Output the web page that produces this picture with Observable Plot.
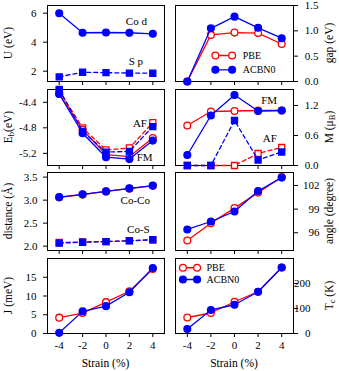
<!DOCTYPE html>
<html><head><meta charset="utf-8">
<script src="https://cdn.jsdelivr.net/npm/d3@7"></script>
<script src="https://cdn.jsdelivr.net/npm/@observablehq/plot@0.6"></script>
<style>
html,body{margin:0;padding:0;background:#fff;}
#chart{position:relative;width:339px;height:371px;overflow:hidden;background:#fff;}
#chart svg{position:absolute;overflow:visible;}
</style></head><body><div id="chart"></div>
<script>
// ---- data ----
const strain = [-4, -2, 0, 2, 4];
const methods = ["PBE", "ACBN0"];
const uCoD = [6.0, 4.65, 4.67, 4.65, 4.58];
const uSp = [1.61, 1.93, 1.90, 1.87, 1.86];
const gapPBE = [0, 0.92, 0.965, 0.955, 0.74];
const gapACBN0 = [0, 1.05, 1.28, 1.06, 0.855];
const ebFM_PBE = [-4.27, -4.83, -5.22, -5.25, -4.96];
const ebFM_ACBN0 = [-4.27, -4.885, -5.26, -5.29, -5.0];
const ebAF_PBE = [-4.22, -4.80, -5.147, -5.115, -4.72];
const ebAF_ACBN0 = [-4.2, -4.855, -5.18, -5.17, -4.78];
const mFM_PBE = [0.80, 1.08, 1.09, 1.10, 1.10];
const mFM_ACBN0 = [0.21, 1.0, 1.41, 1.09, 1.10];
const mAF_PBE = [0, 0, 0, 0.24, 0.36];
const mAF_ACBN0 = [0, 0, 0.90, 0.11, 0.27];
const dCoCo_PBE = [3.06, 3.12, 3.19, 3.25, 3.31];
const dCoCo_ACBN0 = [3.065, 3.125, 3.19, 3.255, 3.315];
const dCoS_PBE = [2.08, 2.09, 2.10, 2.12, 2.14];
const dCoS_ACBN0 = [2.065, 2.085, 2.10, 2.115, 2.14];
const anglePBE = [95.02, 97.22, 99.13, 101.1, 103.07];
const angleACBN0 = [96.42, 97.43, 98.7, 101.3, 103.0];
const jPBE = [4.23, 5.45, 8.36, 11.27, 17.2];
const jACBN0 = [0.2, 5.9, 7.3, 11.0, 17.46];
const tcPBE = [64, 82, 127, 167, 264];
const tcACBN0 = [18, 94, 115, 167, 264];

const uTicks = [2, 4, 6];
const gapTicks = [0, 0.5, 1.0, 1.5];
const ebTicks = [-5.2, -4.8, -4.4];
const mTicks = [0, 0.6, 1.2];
const dTicks = [2.0, 2.5, 3.0, 3.5];
const angleTicks = [96, 99, 102];
const jTicks = [0, 5, 10, 15];
const tcTicks = [0, 100, 200];

// ---- style ----
const FONT = "'Liberation Serif', 'Times New Roman', Times, serif";
const RED = "#ff0000", BLUE = "#0000ff";
const rows = [{top: 5, h: 76}, {top: 89, h: 76}, {top: 172, h: 78}, {top: 258, h: 75}];
const cols = [{left: 0, w: 170, ml: 47, mr: 6}, {left: 170, w: 169, ml: 5, mr: 46}];
const chart = document.getElementById("chart");

function series(values, color, symbol, filled, dashed) {
  const data = strain.map((s, i) => ({s, v: values[i]}));
  return [
    Plot.line(data, {x: "s", y: "v", stroke: color, strokeWidth: 1.3, strokeDasharray: dashed ? "4,3" : null}),
    Plot.dot(data, {x: "s", y: "v", symbol, r: 3.4, stroke: color, fill: filled ? color : "white", strokeWidth: 1.3})
  ];
}
function note(label, x, y) {
  return Plot.text([label], {x, y, text: d => d, fontSize: 11, fill: "black", textAnchor: "middle"});
}
function legend(x1, x2, xt, yRows) {
  const out = [];
  methods.forEach((m, i) => {
    const color = i === 0 ? RED : BLUE;
    const filled = i === 1;
    const pts = [{s: x1, v: yRows[i]}, {s: x2, v: yRows[i]}];
    out.push(Plot.line(pts, {x: "s", y: "v", stroke: color, strokeWidth: 1.3}));
    out.push(Plot.dot(pts, {x: "s", y: "v", r: 3.4, stroke: color, fill: filled ? color : "white", strokeWidth: 1.3}));
    out.push(Plot.text([m], {x: xt, y: yRows[i], text: d => d, textAnchor: "start", fontSize: 10, fill: "black"}));
  });
  return out;
}

function panel(cfg) {
  const c = cols[cfg.col], r = rows[cfg.row];
  const bottom = cfg.row === 3;
  const mt = 5, mb = bottom ? 40 : 6;
  const svg = Plot.plot({
    width: c.w, height: r.h + mt + mb,
    marginTop: mt, marginBottom: mb, marginLeft: c.ml, marginRight: c.mr,
    style: {fontFamily: FONT, fontSize: "11px", background: "transparent", overflow: "visible", color: "black"},
    x: {domain: [-5, 5]},
    y: {domain: cfg.domain},
    marks: [
      Plot.frame({stroke: "black", strokeWidth: 1}),
      Plot.axisX({ticks: strain, tickSize: 4, tickPadding: 4, tickFormat: bottom ? d => String(d) : () => "", label: null}),
      Plot.axisY({anchor: cfg.col ? "right" : "left", ticks: cfg.yTicks, tickFormat: cfg.yFmt, tickSize: 4,
                  tickPadding: cfg.pad, textAnchor: "end", label: null}),
      ...cfg.marks
    ]
  });
  svg.style.left = c.left + "px";
  svg.style.top = (r.top - mt) + "px";
  const g = d3.select(svg);
  const lx = cfg.col ? 329 - c.left : 8;
  const ly = mt + r.h / 2;
  const t = g.append("text")
    .attr("transform", `translate(${lx},${ly}) rotate(-90)`)
    .attr("text-anchor", "middle").attr("dominant-baseline", "central")
    .attr("font-size", "11.5px").attr("font-family", FONT).attr("fill", "black");
  cfg.label(t);
  if (bottom) {
    g.append("text").attr("x", c.ml + (c.w - c.ml - c.mr) / 2).attr("y", mt + r.h + 34)
      .attr("text-anchor", "middle").attr("font-size", "11.5px").attr("font-family", FONT)
      .attr("fill", "black").text("Strain (%)");
  }
  chart.appendChild(svg);
}
const plain = s => t => t.text(s);
const f1 = d => d.toFixed(1);

// Row 1
panel({col: 0, row: 0, domain: [1.29, 6.53], yTicks: uTicks, yFmt: d => String(d), pad: 7,
  label: plain("U (eV)"),
  marks: [...series(uCoD, BLUE, "circle", true, false), ...series(uSp, BLUE, "square", true, true),
          note("Co d", 2.6, 5.43), note("S p", 2.55, 2.67)]});
panel({col: 1, row: 0, domain: [0, 1.5], yTicks: gapTicks, yFmt: f1, pad: 21,
  label: plain("gap (eV)"),
  marks: [...series(gapPBE, RED, "circle", false, false), ...series(gapACBN0, BLUE, "circle", true, false),
          ...legend(-1.62, -0.2, 0.7, [0.513, 0.231])]});
// Row 2
panel({col: 0, row: 1, domain: [-5.39, -4.2], yTicks: ebTicks, yFmt: f1, pad: 7,
  label: t => { t.text("E"); t.append("tspan").attr("dy", 3).attr("font-size", "8.5px").text("b");
                t.append("tspan").attr("dy", -3).text("(eV)"); },
  marks: [...series(ebAF_PBE, RED, "square", false, true), ...series(ebFM_PBE, RED, "circle", false, false),
          ...series(ebAF_ACBN0, BLUE, "square", true, true), ...series(ebFM_ACBN0, BLUE, "circle", true, false),
          note("AF", 2.9, -4.73), note("FM", 3.3, -5.26)]});
panel({col: 1, row: 1, domain: [0, 1.52], yTicks: mTicks, yFmt: f1, pad: 21,
  label: t => { t.text("M (\u03bc"); t.append("tspan").attr("dy", 3).attr("font-size", "8.5px").text("B");
                t.append("tspan").attr("dy", -3).text(")"); },
  marks: [...series(mFM_PBE, RED, "circle", false, false), ...series(mAF_PBE, RED, "square", false, true),
          ...series(mFM_ACBN0, BLUE, "circle", true, false), ...series(mAF_ACBN0, BLUE, "square", true, true),
          note("FM", 2.94, 1.3), note("AF", 3.0, 0.54)]});
// Row 3
panel({col: 0, row: 2, domain: [1.906, 3.6], yTicks: dTicks, yFmt: f1, pad: 6,
  label: plain("distance (\u00c5)"),
  marks: [...series(dCoCo_PBE, RED, "circle", false, false), ...series(dCoS_PBE, RED, "square", false, true),
          ...series(dCoCo_ACBN0, BLUE, "circle", true, false), ...series(dCoS_ACBN0, BLUE, "square", true, true),
          note("Co-Co", 2.5, 3.0), note("Co-S", 2.77, 2.37)]});
panel({col: 1, row: 2, domain: [93.75, 103.65], yTicks: angleTicks, yFmt: d => String(d), pad: 22,
  label: plain("angle (degree)"),
  marks: [...series(anglePBE, RED, "circle", false, false), ...series(angleACBN0, BLUE, "circle", true, false)]});
// Row 4
panel({col: 0, row: 3, domain: [0, 20], yTicks: jTicks, yFmt: d => String(d), pad: 7,
  label: plain("J (meV)"),
  marks: [...series(jPBE, RED, "circle", false, false), ...series(jACBN0, BLUE, "circle", true, false)]});
panel({col: 1, row: 3, domain: [0, 300], yTicks: tcTicks, yFmt: d => String(d), pad: 13,
  label: t => { t.text("T"); t.append("tspan").attr("dy", 3).attr("font-size", "8.5px").text("c");
                t.append("tspan").attr("dy", -3).text(" (K)"); },
  marks: [...series(tcPBE, RED, "circle", false, false), ...series(tcACBN0, BLUE, "circle", true, false),
          ...legend(-4.37, -3.17, -2.37, [263, 216])]});
</script></body></html>
